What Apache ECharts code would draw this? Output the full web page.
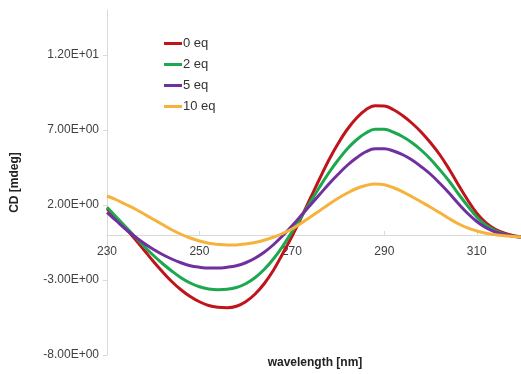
<!DOCTYPE html>
<html>
<head>
<meta charset="utf-8">
<script src="https://cdn.jsdelivr.net/npm/echarts@6/dist/echarts.min.js"></script>
<style>
html,body{margin:0;padding:0;background:#fff;}
#chart{width:521px;height:374px;}
</style>
</head>
<body>
<div id="chart"></div>
<script>
const wavelengths = [230,232,234,236,238,240,242,244,246,248,250,252,254,256,258,260,262,264,266,268,270,272,274,276,278,280,282,284,286,288,290,292,294,296,298,300,302,304,306,308,310,312,314,316,318,320];
const seriesNames = ['0 eq','2 eq','5 eq','10 eq'];
const eq0 = [1.75,1.1,0.45,-0.25,-1.0,-1.75,-2.45,-3.1,-3.65,-4.1,-4.45,-4.7,-4.82,-4.85,-4.75,-4.45,-3.95,-3.25,-2.35,-1.25,-0.1,1.15,2.45,3.75,5.0,6.1,7.05,7.8,8.35,8.62,8.6,8.35,7.95,7.45,6.85,6.15,5.35,4.4,3.35,2.35,1.45,0.8,0.38,0.12,-0.05,-0.15];
const eq2 = [1.85,1.2,0.55,-0.1,-0.75,-1.35,-1.9,-2.4,-2.85,-3.2,-3.45,-3.6,-3.65,-3.62,-3.5,-3.25,-2.85,-2.3,-1.6,-0.75,0.2,1.2,2.2,3.2,4.15,5.0,5.75,6.35,6.8,7.05,7.05,6.85,6.55,6.15,5.65,5.05,4.35,3.6,2.75,1.95,1.2,0.65,0.3,0.05,-0.08,-0.15];
const eq5 = [1.5,0.95,0.4,-0.1,-0.55,-0.95,-1.3,-1.6,-1.85,-2.05,-2.15,-2.2,-2.2,-2.15,-2.05,-1.85,-1.55,-1.15,-0.65,-0.05,0.6,1.3,2.0,2.7,3.4,4.05,4.65,5.15,5.55,5.75,5.75,5.6,5.35,5.0,4.55,4.05,3.45,2.8,2.1,1.45,0.9,0.48,0.2,0.03,-0.08,-0.15];
const eq10 = [2.6,2.35,2.05,1.75,1.4,1.05,0.7,0.35,0.05,-0.2,-0.4,-0.55,-0.63,-0.67,-0.66,-0.6,-0.5,-0.35,-0.15,0.1,0.4,0.78,1.2,1.62,2.05,2.45,2.8,3.1,3.3,3.4,3.35,3.15,2.88,2.55,2.2,1.85,1.48,1.1,0.75,0.47,0.27,0.12,0.02,-0.05,-0.1,-0.15];
const colors = ['#C0141C','#1BA84F','#7030A0','#F7B23B'];
const values = [eq0, eq2, eq5, eq10];

function sci(v){
  if (v === 0) return '0.00E+00';
  let e = Math.floor(Math.log10(Math.abs(v)) + 1e-9);
  let m = v / Math.pow(10, e);
  const sign = e < 0 ? '-' : '+';
  const ae = Math.abs(e);
  return m.toFixed(2) + 'E' + sign + (ae < 10 ? '0' + ae : ae);
}

const chart = echarts.init(document.getElementById('chart'));
const font = 'Liberation Sans, Arial, sans-serif';
chart.setOption({
  animation: false,
  textStyle: {fontFamily: font},
  grid: {left: 107, right: -2, top: 10, bottom: 19, containLabel: false, outerBoundsMode: 'none'},
  legend: {
    orient: 'vertical', left: 164, top: 37, padding: 0,
    icon: 'rect', itemWidth: 18, itemHeight: 3, itemGap: 8,
    textStyle: {fontSize: 13, color: '#333', fontFamily: font, padding: [0,0,0,-4]},
    data: seriesNames
  },
  xAxis: {
    type: 'value', min: 230, max: 320, interval: 20,
    offset: -120,
    name: 'wavelength [nm]', nameLocation: 'middle', nameGap: 122,
    nameTextStyle: {fontWeight: 'bold', fontSize: 12, color: '#222', fontFamily: font},
    axisLine: {onZero: false, lineStyle: {color: '#d9d9d9', width: 1}},
    axisTick: {show: true, length: 4, inside: true, lineStyle: {color: '#d9d9d9'}},
    axisLabel: {color: '#404040', fontSize: 12, margin: 11, showMaxLabel: false, fontFamily: font},
    splitLine: {show: false}
  },
  yAxis: {
    type: 'value', min: -8, max: 15, interval: 5,
    name: 'CD [mdeg]', nameLocation: 'middle', nameGap: 86,
    nameTextStyle: {fontWeight: 'bold', fontSize: 12, color: '#222', fontFamily: font},
    axisLine: {show: true, lineStyle: {color: '#d9d9d9', width: 1}},
    axisTick: {show: true, length: 4, lineStyle: {color: '#d9d9d9'}},
    axisLabel: {color: '#404040', fontSize: 12, margin: 8, showMaxLabel: false, formatter: sci, fontFamily: font},
    splitLine: {show: false}
  },
  series: seriesNames.map((n, i) => ({
    name: n, type: 'line', smooth: 0.4, showSymbol: false, symbol: 'none',
    lineStyle: {width: 3, color: colors[i]},
    itemStyle: {color: colors[i]},
    data: wavelengths.map((w, j) => [w, values[i][j]])
  }))
});
</script>
</body>
</html>
